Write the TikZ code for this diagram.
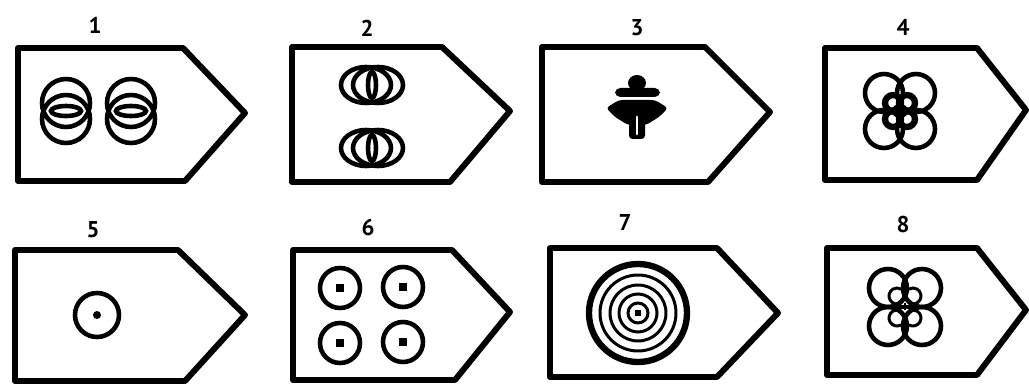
\documentclass[tikz,border=0pt]{standalone}
\usepackage{fontspec}
\setsansfont{PT Sans}
\tikzset{
  tagline/.style={line width=3.4pt, line join=round},
  ring/.style={line width=2.6pt},
  thinring/.style={line width=1.7pt},
  num/.style={font=\sffamily\bfseries\fontsize{13}{13}\selectfont, inner sep=0pt},
}
% a tag outline: left, top, corner x, tip x, tip y, bottom corner x, bottom
\newcommand{\tagpath}[7]{(#1,#2) -- (#3,#2) -- (#4,#5) -- (#6,#7) -- (#1,#7) -- cycle}

\begin{document}
\begin{tikzpicture}[x=0.02cm, y=-0.02cm]
  \useasboundingbox (0,0) rectangle (1029,385);

  % tag outlines
  \draw[tagline] \tagpath{18}{48}{183}{245}{113}{185}{181};
  \draw[tagline] \tagpath{292}{47}{442}{510}{111}{450}{182};
  \draw[tagline] \tagpath{542}{47}{705}{770}{112}{708}{182};
  \draw[tagline] \tagpath{825}{48}{977}{1026}{110}{977}{180};
  \draw[tagline] \tagpath{15}{250}{178}{245}{315}{185}{381};
  \draw[tagline] \tagpath{293}{250}{452}{510}{312}{455}{380};
  \draw[tagline] \tagpath{550}{248}{717}{778}{313}{717}{377};
  \draw[tagline] \tagpath{827}{248}{977}{1026}{310}{977}{375};

  % numbers
  \node[num] (lab1) at (95,25) {1};
  \node[num] (lab2) at (367,28) {2};
  \node[num] (lab3) at (637,28) {3};
  \node[num] (lab4) at (903,27) {4};
  \node[num] (lab5) at (93,230) {5};
  \node[num] (lab6) at (368,228) {6};
  \node[num] (lab7) at (625,223) {7};
  \node[num] (lab8) at (903,225) {8};

  % 1: two stacked pairs
  \foreach \cx in {66,131} {
    \draw[ring] (\cx,103) circle[radius=24];
    \draw[ring] (\cx,119) circle[radius=24];
    \draw[ring] (\cx,111) ellipse[x radius=15, y radius=5];
  }

  % 2: two side-by-side pairs
  \foreach \cy in {85,148} {
    \draw[ring] (366,\cy) ellipse[x radius=25, y radius=18];
    \draw[ring] (378,\cy) ellipse[x radius=25, y radius=18];
    \draw[ring] (372,\cy) ellipse[x radius=4, y radius=13];
  }

  % 3: star
  \begin{scope}[shift={(637,105)}]
    \fill (0,-22) ellipse[x radius=9, y radius=8];
    \fill[rounded corners=3pt] (-22,-17) rectangle (23,-8);
    \fill[rounded corners=2pt] (-31,3) -- (-18,-5) -- (18,-5) -- (31,3)
      -- (22,12) -- (9,20) -- (-9,20) -- (-22,12) -- cycle;
    \fill[rounded corners=2pt] (-8,15) rectangle (8,34);
    \draw[white, line width=1.6pt, line cap=round] (0,12) -- (0,29);
  \end{scope}

  % 4: four-lobe flower
  \foreach \dx/\dy in {-16/-18, 16/-18, -16/18, 16/18}
    \draw[ring] (900+\dx,111+\dy) circle[radius=19];
  \foreach \dx/\dy in {-7/-8, 7/-8, -7/8, 7/8}
    \draw[line width=3.6pt] (900+\dx,111+\dy) circle[radius=8];

  % 5: single ring
  \draw[ring] (97,315) circle[radius=22];
  \fill (97,315) circle[radius=4];

  % 6: four rings
  \foreach \cx/\cy in {340/288, 403/287, 340/343, 403/342} {
    \draw[ring] (\cx,\cy) circle[radius=20];
    \fill (\cx-4,\cy-4) rectangle (\cx+4,\cy+4);
  }

  % 7: concentric rings
  \draw[line width=3.6pt] (638,313) circle[radius=49];
  \foreach \r in {38,28,19,10}
    \draw[thinring] (638,313) circle[radius=\r];
  \fill (635,310) rectangle (641,316);

  % 8: four lobes with cross
  \foreach \dx/\dy in {-17/-19, 17/-19, -17/19, 17/19}
    \draw[ring] (905+\dx,307+\dy) circle[radius=19];
  \draw[ring] (878,307) -- (932,307);
  \draw[thinring, dash pattern=on 4pt off 2pt] (905,282) -- (905,332);
  \foreach \dy in {-11,11} {
    \draw[thinring] (897,307+\dy) ++(60:8) arc[start angle=60, end angle=300, radius=8];
    \draw[thinring] (913,307+\dy) ++(120:8) arc[start angle=120, end angle=-120, radius=8];
  }
\end{tikzpicture}
\end{document}
